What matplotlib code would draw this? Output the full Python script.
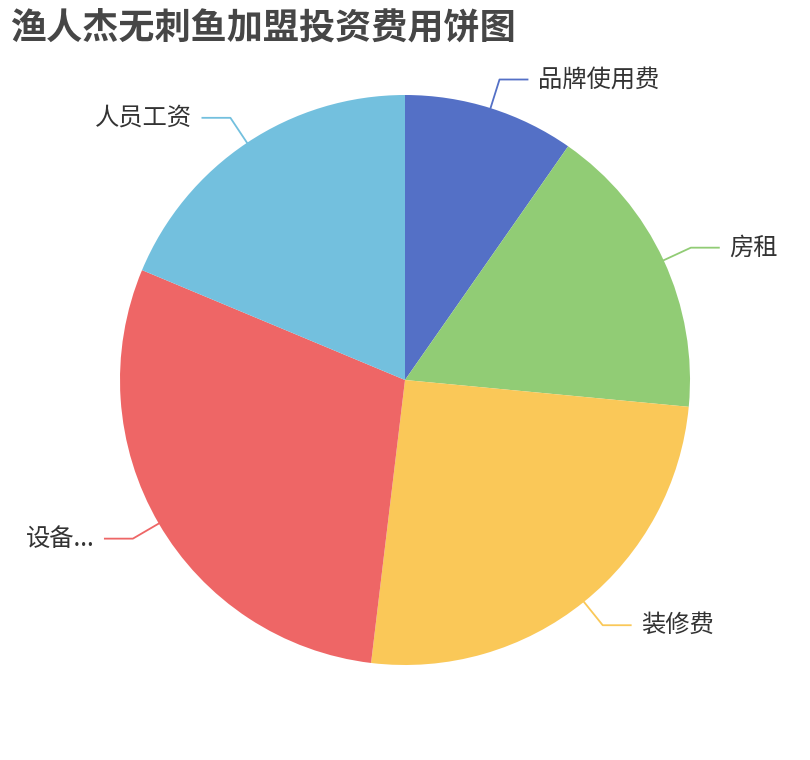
import numpy as np
import matplotlib.pyplot as plt

plt.rcParams['font.family'] = ['Noto Sans CJK SC', 'DejaVu Sans']

# 费用项目及占比
labels = ['品牌使用费', '房租', '装修费', '设备...', '人员工资']
values = [9.7, 16.8, 25.4, 29.4, 18.7]
colors = ['#5470c6', '#91cc75', '#fac858', '#ee6666', '#73c0de']
title = '渔人杰无刺鱼加盟投资费用饼图'

W, H = 810, 760
fig = plt.figure(figsize=(W / 100, H / 100), dpi=100)
ax = fig.add_axes([0, 0, 1, 1])
ax.set_xlim(0, W)
ax.set_ylim(0, H)
ax.set_aspect('equal')
ax.axis('off')

cx, cy, r = 405, 380, 285
wedges, _ = ax.pie(values, colors=colors, startangle=90, counterclock=False,
                   center=(cx, cy), radius=r, frame=True,
                   wedgeprops=dict(linewidth=0))
ax.set_xlim(0, W)
ax.set_ylim(0, H)
ax.axis('off')

# leader lines and labels
len1, len2 = 30, 28
for w, lab, col in zip(wedges, labels, colors):
    ang = np.deg2rad((w.theta1 + w.theta2) / 2)
    dx, dy = np.cos(ang), np.sin(ang)
    p1 = (cx + r * dx, cy + r * dy)
    p2 = (cx + (r + len1) * dx, cy + (r + len1) * dy)
    side = 1 if dx >= 0 else -1
    p3 = (p2[0] + side * len2, p2[1])
    ax.plot([p1[0], p2[0], p3[0]], [p1[1], p2[1], p3[1]], color=col, lw=1.3)
    ax.text(p3[0] + side * 10, p3[1], lab, fontsize=17.5, color='#333333',
            ha='left' if side > 0 else 'right', va='center')

fig.text(10 / W, 1 - 28 / H, title, fontsize=26, fontweight='bold',
         color='#464646', ha='left', va='center')

fig.savefig('out.png', dpi=100)
